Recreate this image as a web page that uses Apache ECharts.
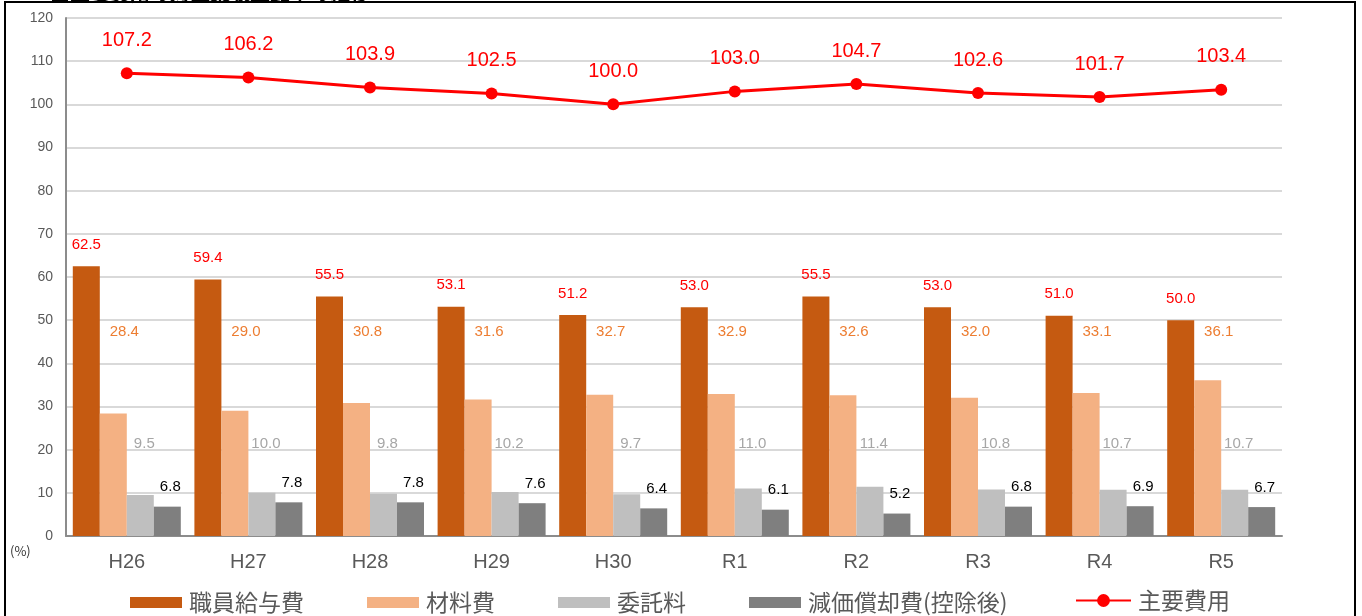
<!DOCTYPE html>
<html>
<head>
<meta charset="utf-8">
<script src="https://cdn.jsdelivr.net/npm/echarts@6/dist/echarts.min.js"></script>
<style>
html,body{margin:0;padding:0;background:#fff;}
#chart{width:1362px;height:616px;}
</style>
</head>
<body>
<div id="chart"></div>
<script>
// ---- data ----
const categories = ['H26','H27','H28','H29','H30','R1','R2','R3','R4','R5'];
const salary      = [62.5, 59.4, 55.5, 53.1, 51.2, 53.0, 55.5, 53.0, 51.0, 50.0];
const materials   = [28.4, 29.0, 30.8, 31.6, 32.7, 32.9, 32.6, 32.0, 33.1, 36.1];
const outsourcing = [9.5, 10.0, 9.8, 10.2, 9.7, 11.0, 11.4, 10.8, 10.7, 10.7];
const depreciation= [6.8, 7.8, 7.8, 7.6, 6.4, 6.1, 5.2, 6.8, 6.9, 6.7];
const mainCosts   = [107.2, 106.2, 103.9, 102.5, 100.0, 103.0, 104.7, 102.6, 101.7, 103.4];
const seriesNames = ['職員給与費','材料費','委託料','減価償却費(控除後)','主要費用'];
const yTicks = {min: 0, max: 120, interval: 10};

// ---- layout / style ----
const GRID = {left: 66, right: 80, top: 18, bottom: 80};
const plotH = 616 - GRID.top - GRID.bottom;
const pxPerUnit = plotH / (yTicks.max - yTicks.min);
const numFont = '"Liberation Sans", Arial, sans-serif';
const cjkFont = '"Noto Sans CJK JP", sans-serif';
const legendText = {fontSize: 23, color: '#595959', fontFamily: cjkFont, padding: [0,0,0,2]};

// labels that sit at a common level (as in the original layout)
function levelLabels(values, level, color, dx) {
  return values.map(v => ({
    value: v,
    label: {
      show: true, position: 'top', distance: 0,
      offset: [dx, -(level - v) * pxPerUnit],
      color: color, fontSize: 15, fontFamily: numFont,
      formatter: p => p.value.toFixed(1)
    }
  }));
}

const chart = echarts.init(document.getElementById('chart'), null, {renderer: 'canvas'});
const option = {
  backgroundColor: '#ffffff',
  animation: false,
  grid: GRID,
  legend: [
    {
      top: 586, left: 125,
      itemWidth: 52, itemHeight: 11, itemGap: 63,
      textStyle: legendText,
      data: seriesNames.slice(0, 4).map(n => ({name: n, icon: 'rect'}))
    },
    {
      top: 584, left: 1070,
      itemWidth: 55, itemHeight: 16,
      textStyle: legendText,
      data: [seriesNames[4]]
    }
  ],
  xAxis: {
    type: 'category', data: categories,
    axisLine: {lineStyle: {color: '#8c8c8c', width: 2}},
    axisTick: {show: false},
    axisLabel: {fontSize: 20, color: '#595959', margin: 16, fontFamily: numFont}
  },
  yAxis: {
    type: 'value', min: yTicks.min, max: yTicks.max, interval: yTicks.interval,
    axisLine: {show: true, lineStyle: {color: '#8c8c8c', width: 2}},
    axisTick: {show: false},
    axisLabel: {fontSize: 14, color: '#595959', margin: 13, fontFamily: numFont},
    splitLine: {lineStyle: {color: '#d9d9d9', width: 2}}
  },
  series: [
    {
      name: seriesNames[0], type: 'bar', data: salary,
      barWidth: 27, barGap: '0%', barCategoryGap: '11%',
      itemStyle: {color: '#C55A11'},
      label: {show: true, position: 'top', distance: 14, color: '#FF0000', fontSize: 15,
              fontFamily: numFont, formatter: p => p.value.toFixed(1)}
    },
    {
      name: seriesNames[1], type: 'bar', barWidth: 27, barGap: '0%',
      data: levelLabels(materials, 45.6, '#ED7D31', 11),
      itemStyle: {color: '#F4B183'}
    },
    {
      name: seriesNames[2], type: 'bar', barWidth: 27, barGap: '0%',
      data: levelLabels(outsourcing, 19.6, '#A6A6A6', 4),
      itemStyle: {color: '#BFBFBF'}
    },
    {
      name: seriesNames[3], type: 'bar', data: depreciation,
      barWidth: 27, barGap: '0%',
      itemStyle: {color: '#7F7F7F'},
      label: {show: true, position: 'top', distance: 12, offset: [3, 0], color: '#000000',
              fontSize: 15, fontFamily: numFont, formatter: p => p.value.toFixed(1)}
    },
    {
      name: seriesNames[4], type: 'line', data: mainCosts, z: 5,
      symbol: 'circle', symbolSize: 12,
      lineStyle: {color: '#FF0000', width: 3},
      itemStyle: {color: '#FF0000'},
      label: {show: true, position: 'top', distance: 17, color: '#FF0000', fontSize: 20,
              fontFamily: numFont, formatter: p => p.value.toFixed(1)}
    }
  ],
  graphic: [
    {type: 'rect', silent: true, z: 100,
     shape: {x: 5, y: 2, width: 1350, height: 700},
     style: {fill: 'none', stroke: '#000000', lineWidth: 2}},
    {type: 'text', left: 10, top: 545, silent: true,
     style: {text: '(%)', fontSize: 13, fill: '#333333', fontFamily: cjkFont}},
    {type: 'text', x: 50, y: -17, silent: true, z: 101,
     style: {text: '■主要費用の対医業収益比率の推移', fontSize: 20, fontWeight: 'bold', fill: '#000000', fontFamily: cjkFont}}
  ]
};
chart.setOption(option);
</script>
</body>
</html>
